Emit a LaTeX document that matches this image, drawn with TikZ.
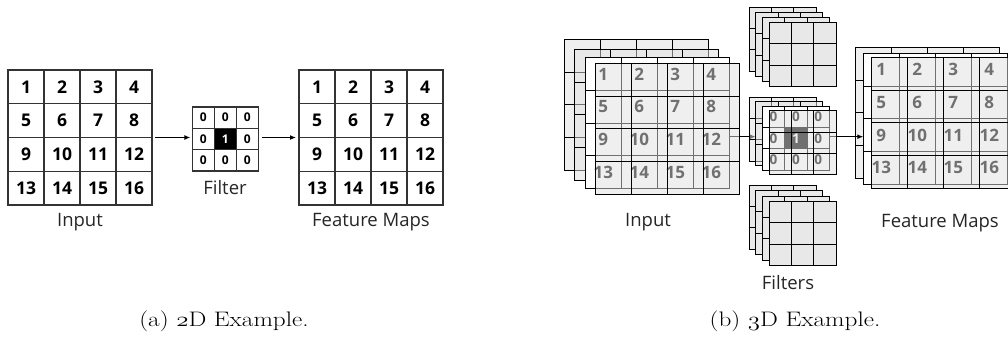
\documentclass[tikz,border=0pt]{standalone}
\usepackage{fontspec}
\setsansfont{Open Sans}
\usetikzlibrary{calc,arrows.meta}

% inner rules of a grid node: #1 node, #2 columns, #3 rows, #4 line style
\newcommand\cellgrid[4]{%
  \pgfmathtruncatemacro\lastcol{#2-1}%
  \pgfmathtruncatemacro\lastrow{#3-1}%
  \foreach \k in {1,...,\lastcol}{\draw[#4] ($(#1.north west)!\k/#2!(#1.north east)$) -- ($(#1.south west)!\k/#2!(#1.south east)$);}%
  \foreach \k in {1,...,\lastrow}{\draw[#4] ($(#1.north west)!\k/#3!(#1.south west)$) -- ($(#1.north east)!\k/#3!(#1.south east)$);}%
}
% numbers 1..16 in a 4x4 grid: #1 node, #2 cell width, #3 cell height, #4 text style
\newcommand\numbergrid[4]{%
  \foreach \r in {1,...,4}{\foreach \c in {1,...,4}{%
    \pgfmathtruncatemacro\v{(\r-1)*4+\c}%
    \node[#4] (#1-\v) at ($(#1.north west)+({(\c-0.5)*#2},{(\r-0.5)*#3})$) {\v};}}%
}
% 3x3 kernel: zeros around a dark centre cell holding 1
\newcommand\kernelcentre[3]{%
  \fill[black] ($(#1.north west)+(#2,#3)$) rectangle ($(#1.north west)+({2*#2},{2*#3})$);%
}
\newcommand\kernelnums[4]{%
  \foreach \r in {1,2,3}{\foreach \c in {1,2,3}{%
    \ifnum\r\c=22 \else
      \node[#4] (#1-\r\c) at ($(#1.north west)+({(\c-0.5)*#2},{(\r-0.5)*#3})$) {0};%
    \fi}}%
  \node[#4,text=white] (#1-22) at ($(#1.north west)+({1.5*#2},{1.5*#3})$) {1};%
}
% old-style figure for the sub-captions
\newcommand\osf[1]{{\usefont{OML}{cmm}{m}{it}#1}}

\begin{document}
\begin{tikzpicture}[x=1pt,y=-1pt,
  box/.style={anchor=north west,inner sep=0pt,outer sep=0pt},
  sheet2d/.style={box,draw=black!80,line width=1.2pt,fill=white},
  rule2d/.style={draw=black!80,line width=1.2pt},
  ghost/.style={box,draw=black,line width=1pt,fill=black!12,fill opacity=0.5},
  paper/.style={box,draw=black,line width=1pt,fill=white},
  flat/.style={box,draw=black,line width=1pt,fill=black!9},
  rule3d/.style={draw=black,line width=1pt},
  bigsheet/.style={minimum width=144pt,minimum height=131pt},
  smallsheet/.style={minimum width=67pt,minimum height=64pt},
  num2d/.style={inner sep=0pt,font=\sffamily\bfseries\fontsize{17.5}{18}\selectfont},
  knum2d/.style={inner sep=0pt,font=\sffamily\bfseries\fontsize{12}{13}\selectfont},
  num3d/.style={inner sep=0pt,font=\sffamily\bfseries\fontsize{17}{18}\selectfont},
  knum3d/.style={inner sep=0pt,font=\sffamily\bfseries\fontsize{13.5}{14}\selectfont},
  lbl/.style={inner sep=0pt,text=black!85,font=\sffamily\fontsize{18.5}{20}\selectfont},
  captext/.style={inner sep=0pt,anchor=base,xscale=1.2,transform shape,
    font=\rmfamily\fontsize{21}{24}\selectfont},
  flow/.style={-{Latex[length=6pt,width=5pt]},line width=1.2pt,black},
]
\useasboundingbox (0,0) rectangle (1008,345);

% ---------------- 2D example ----------------
\node[sheet2d,minimum width=144pt,minimum height=135pt] (in2d) at (8,70) {};
\cellgrid{in2d}{4}{4}{rule2d}
\numbergrid{in2d}{36}{33.75}{num2d}

\node[sheet2d,minimum width=66pt,minimum height=64pt] (f2d) at (192.3,107) {};
\kernelcentre{f2d}{22}{21.33}
\cellgrid{f2d}{3}{3}{rule2d}
\kernelnums{f2d}{22}{21.33}{knum2d}

\node[sheet2d,minimum width=144pt,minimum height=135pt] (out2d) at (299,70) {};
\cellgrid{out2d}{4}{4}{rule2d}
\numbergrid{out2d}{36}{33.75}{num2d}

\draw[flow,shorten <=3pt,shorten >=2pt] (in2d.east) -- (f2d.west |- in2d.east);
\draw[flow,shorten <=4pt,shorten >=3pt] (f2d.east |- in2d.east) -- (out2d.west);

\node[lbl] (lin2d) at (80,222) {Input};
\node[lbl] (lf2d) at (225,188) {Filter};
\node[lbl] (lout2d) at (371,222) {Feature Maps};
\node[captext] (capa) at (224,326.7) {(a) \osf{2}D Example.};

% ---------------- 3D example ----------------
% input channels
\node[ghost,bigsheet] (inA) at (564.3,39.3) {};
\cellgrid{inA}{4}{4}{rule3d}
\node[ghost,bigsheet] (inB) at (574.7,49.3) {};
\cellgrid{inB}{4}{4}{rule3d}
\node[paper,bigsheet] (inC) at (585.3,57.7) {};
\cellgrid{inC}{4}{4}{rule3d}
\numbergrid{inC}{36}{32.75}{num3d}
\coordinate (tipA) at (755.7,136.7);
\draw[flow] (inC.east |- tipA) -- (tipA);
\node[ghost,bigsheet] (inD) at (595.3,63.3) {};
\cellgrid{inD}{4}{4}{rule3d}

% upper filter
\node[flat,smallsheet] (faA) at (749,7.3) {};
\cellgrid{faA}{3}{3}{rule3d}
\node[flat,smallsheet] (faB) at (755.7,12.4) {};
\cellgrid{faB}{3}{3}{rule3d}
\node[flat,smallsheet] (faC) at (762.4,17.5) {};
\cellgrid{faC}{3}{3}{rule3d}
\node[flat,smallsheet] (faD) at (769.1,22.6) {};
\cellgrid{faD}{3}{3}{rule3d}

% middle filter, with its kernel
\node[ghost,smallsheet] (fbA) at (749,97.3) {};
\cellgrid{fbA}{3}{3}{rule3d}
\node[ghost,smallsheet] (fbB) at (755.7,101.8) {};
\cellgrid{fbB}{3}{3}{rule3d}
\node[paper,smallsheet] (fbC) at (762.4,106.3) {};
\kernelcentre{fbC}{22.33}{21.33}
\cellgrid{fbC}{3}{3}{rule3d}
\kernelnums{fbC}{22.33}{21.33}{knum3d}

% feature maps, back sheet
\node[ghost,bigsheet] (fmA) at (855.7,47.3) {};
\cellgrid{fmA}{4}{4}{rule3d}
\coordinate (tipB) at (863.3,136.7);
\draw[flow] (fbC.east |- tipB) -- (tipB);

\node[ghost,smallsheet] (fbD) at (769.1,110.8) {};
\cellgrid{fbD}{3}{3}{rule3d}

% feature maps, front sheets
\node[paper,bigsheet] (fmB) at (863.3,53.3) {};
\cellgrid{fmB}{4}{4}{rule3d}
\numbergrid{fmB}{36}{32.75}{num3d}
\node[ghost,bigsheet] (fmC) at (871,57.3) {};
\cellgrid{fmC}{4}{4}{rule3d}

% lower filter
\node[flat,smallsheet] (fcA) at (749,185) {};
\cellgrid{fcA}{3}{3}{rule3d}
\node[flat,smallsheet] (fcB) at (755.7,190.5) {};
\cellgrid{fcB}{3}{3}{rule3d}
\node[flat,smallsheet] (fcC) at (762.4,196) {};
\cellgrid{fcC}{3}{3}{rule3d}
\node[flat,smallsheet] (fcD) at (769.1,201.5) {};
\cellgrid{fcD}{3}{3}{rule3d}

\node[lbl] (lin3d) at (648,222) {Input};
\node[lbl] (lf3d) at (788,283) {Filters};
\node[lbl] (lout3d) at (940,223) {Feature Maps};
\node[captext] (capb) at (795,326.7) {(b) \osf{3}D Example.};
\end{tikzpicture}
\end{document}
